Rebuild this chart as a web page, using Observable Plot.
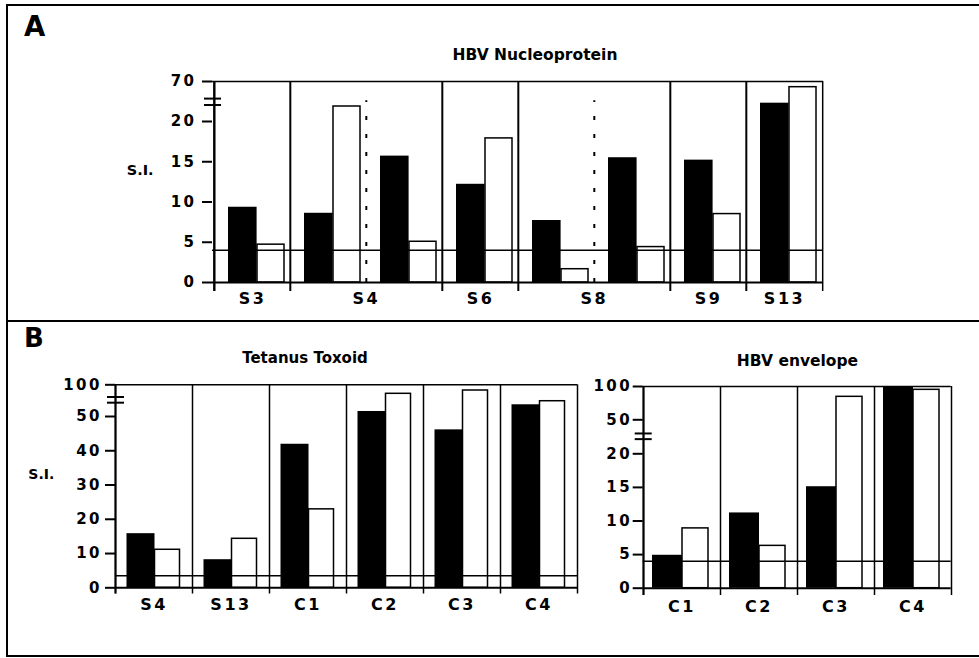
<!DOCTYPE html>
<html><head><meta charset="utf-8">
<script src="https://cdn.jsdelivr.net/npm/d3@7"></script>
<script src="https://cdn.jsdelivr.net/npm/@observablehq/plot@0.6"></script>
<style>
body{margin:0;background:#fff;}
#fig{position:relative;width:979px;height:658px;overflow:hidden;background:#fff;font-family:"DejaVu Sans",sans-serif;font-weight:bold;color:#000}
.t{position:absolute;white-space:nowrap;line-height:1}
.c{text-align:center;width:300px}
.ln{position:absolute;background:#000}
.pl{position:absolute}
</style></head><body><div id="fig">
<div class="ln" style="left:6px;top:4px;width:973px;height:2px"></div>
<div class="ln" style="left:6px;top:320px;width:973px;height:2px"></div>
<div class="ln" style="left:6px;top:655px;width:973px;height:2px"></div>
<div class="ln" style="left:6px;top:4px;width:2px;height:653px"></div>
<div class="t" style="left:24px;top:13.4px;font-size:27.5px">A</div>
<div class="t" style="left:24px;top:325px;font-size:26px">B</div>
<div class="t c" style="left:385px;top:47.6px;font-size:15.5px">HBV Nucleoprotein</div>
<div class="t c" style="left:155px;top:350.6px;font-size:15px">Tetanus Toxoid</div>
<div class="t c" style="left:647.5px;top:353.6px;font-size:15.5px">HBV envelope</div>
<div class="t" style="left:126.7px;top:163.4px;font-size:14.5px">S.I.</div>
<div class="t" style="left:28.3px;top:466.5px;font-size:14px">S.I.</div>
</div>
<script>
// ---- Panel A: HBV Nucleoprotein ----
const slotsA = ["S3","S4a","S4b","S6","S8a","S8b","S9","S13"];
const blackA = [9.35, 8.6, 15.7, 12.2, 7.7, 15.5, 15.2, 42.9];
const whiteA = [4.7, 38.75, 5.06, 17.9, 1.65, 4.4, 8.5, 62.9];
const labelsA = ["S3","S4","S6","S8","S9","S13"];
const labelSlotsA = ["S3","S4b","S6","S8b","S9","S13"];
const spansA = [1,2,1,2,1,1];
const solidA = ["S3","S4a","S6","S8a","S9","S13"];
const dottedA = ["S4b","S8b"];
const ticksA = [0,5,10,15,20,70];
const thresholdA = 4.0;

// ---- Panel B left: Tetanus Toxoid ----
const slotsTT = ["S4","S13","C1","C2","C3","C4"];
const blackTT = [15.8, 8.2, 41.9, 57.9, 46.1, 68.5];
const whiteTT = [11.1, 14.3, 22.9, 85.8, 91, 74.1];
const ticksTT = [0,10,20,30,40,50,100];
const thresholdTT = 3.5;

// ---- Panel B right: HBV envelope ----
const slotsEnv = ["C1","C2","C3","C4"];
const blackEnv = [4.9, 11.2, 15.1, 100];
const whiteEnv = [8.9, 6.3, 84.5, 95];
const ticksEnv = [0,5,10,15,20,50,100];
const thresholdEnv = 4.0;

function panel(c) {
  const bw = (c.width - c.mL - c.mR) / c.slots.length;
  const rows = c.slots.map((s, i) => ({slot: s, black: c.black[i], white: c.white[i]}));
  const lab = c.labels.map((l, i) => ({label: l, slot: c.labelSlots[i], span: c.spans[i]}));
  const top = c.domain[c.domain.length - 1];
  const marks = [
    Plot.barY(rows, {x: "slot", y: "black", fill: "#000", insetLeft: c.bIn[0], insetRight: c.bIn[1]}),
    Plot.barY(rows, {x: "slot", y: "white", fill: "#fff", stroke: "#000", strokeWidth: 1.5, insetLeft: c.wIn[0], insetRight: c.wIn[1]}),
    Plot.ruleY([c.threshold], {strokeWidth: 1.5}),
    Plot.ruleY([0], {strokeWidth: 2}),
    Plot.ruleY([top], {strokeWidth: 1.5}),
    Plot.ruleX(c.solid, {dx: -bw / 2, strokeWidth: c.sepW}),
    Plot.ruleX([c.slots[c.slots.length - 1]], {dx: bw / 2, strokeWidth: 1.5}),
    Plot.ruleX([c.slots[0]], {dx: -bw / 2, strokeWidth: 2}),
    Plot.axisY({ticks: c.ticks, tickSize: 10, tickPadding: c.tickPadding, tickFormat: d => String(d), strokeWidth: 2, label: null, fontSize: 15}),
    Plot.text(lab.filter(d => d.span === 1), {x: "slot", text: "label", frameAnchor: "bottom", lineAnchor: "top", dy: c.labelDy, fontSize: 16}),
    Plot.text(lab.filter(d => d.span === 2), {x: "slot", text: "label", frameAnchor: "bottom", lineAnchor: "top", dy: c.labelDy, dx: -bw / 2, fontSize: 16})
  ];
  if (c.dotted) marks.push(Plot.ruleX(c.dotted, {dx: -bw / 2, y1: 0, y2: c.dotTop, strokeWidth: 2, strokeDasharray: "4,14"}));
  const p = Plot.plot({
    width: c.width, height: c.height,
    marginLeft: c.mL, marginRight: c.mR, marginTop: c.mT, marginBottom: c.mB,
    x: {type: "band", domain: c.slots, padding: 0, axis: null},
    y: {type: "linear", domain: c.domain, range: c.range},
    style: {background: "transparent", fontFamily: "DejaVu Sans, sans-serif", fontWeight: "bold", fontSize: "15px", letterSpacing: "2.5px", color: "#000", overflow: "visible"},
    marks
  });
  const sy = p.scale("y");
  const g = d3.select(p).append("g");
  for (const b of c.breaks) {
    g.append("line").attr("x1", c.mL - 8).attr("x2", c.mL + 9)
      .attr("y1", sy.apply(b)).attr("y2", sy.apply(b))
      .attr("stroke", "#000").attr("stroke-width", 2);
  }
  p.classList.add("pl");
  p.style.left = c.left + "px";
  p.style.top = c.top + "px";
  document.getElementById("fig").appendChild(p);
}

panel({
  left: 0, top: 0, width: 979, height: 320, mL: 212, mR: 156, mT: 81, mB: 29,
  slots: slotsA, black: blackA, white: whiteA, labels: labelsA, labelSlots: labelSlotsA, spans: spansA,
  solid: solidA, dotted: dottedA, dotTop: 46, ticks: ticksA, threshold: thresholdA,
  domain: [0, 20, 70], range: [282, 121, 81], breaks: [40, 48],
  bIn: [14, 33.4], wIn: [43, 6], sepW: 2, tickPadding: 6, labelDy: 1
});
panel({
  left: 0, top: 320, width: 590, height: 300, mL: 115, mR: 13, mT: 64.3, mB: 26.5,
  slots: slotsTT, black: blackTT, white: whiteTT, labels: slotsTT, labelSlots: slotsTT, spans: slotsTT.map(() => 1),
  solid: slotsTT, ticks: ticksTT, threshold: thresholdTT,
  domain: [0, 50, 100], range: [267.3, 96, 64.3], breaks: [71, 80],
  bIn: [11.5, 37.5], wIn: [39.5, 12.5], sepW: 1.5, tickPadding: 3.5, labelDy: 4.5
});
panel({
  left: 590, top: 320, width: 389, height: 300, mL: 52.7, mR: 28.3, mT: 66, mB: 25,
  slots: slotsEnv, black: blackEnv, white: whiteEnv, labels: slotsEnv, labelSlots: slotsEnv, spans: slotsEnv.map(() => 1),
  solid: slotsEnv, ticks: ticksEnv, threshold: thresholdEnv,
  domain: [0, 20, 50, 100], range: [267.7, 133.3, 99.3, 66], breaks: [32.5, 37.5],
  bIn: [9, 38], wIn: [39, 12], sepW: 1.5, tickPadding: 1, labelDy: 5
});
</script>
</body></html>
